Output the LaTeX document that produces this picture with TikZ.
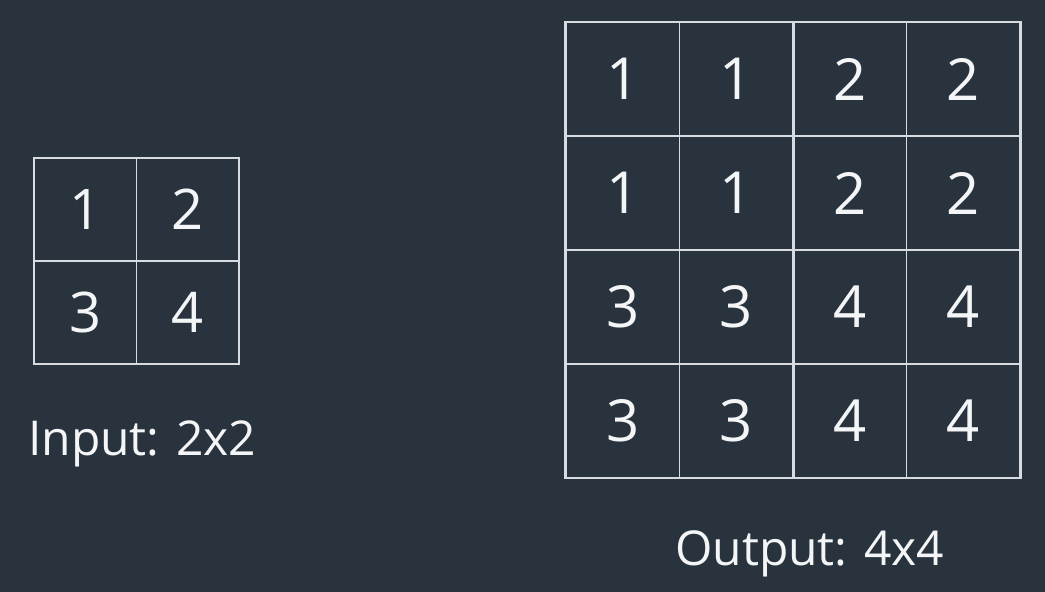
\documentclass[tikz,border=0pt]{standalone}
\usepackage{fontspec}
\setmainfont{Open Sans}
\definecolor{bg}{HTML}{29333E}
\definecolor{ln}{HTML}{D8DCE0}
\definecolor{txt}{HTML}{F4F5F6}
\begin{document}
\begin{tikzpicture}[x=1pt,y=-1pt,
  cellA/.style={draw=ln,line width=1.6pt,minimum size=102.5pt,inner sep=0pt,text=txt,font=\fontsize{56}{60}\selectfont},
  cellB/.style={draw=ln,line width=0.8pt,minimum size=113.5pt,inner sep=0pt,text=txt,font=\fontsize{58}{62}\selectfont},
  thick line/.style={draw=ln,line width=2.6pt},
  lbl/.style={text=txt,font=\fontsize{48}{52}\selectfont,inner sep=0pt}]
\fill[bg] (0,0) rectangle (1045,592);
\useasboundingbox (0,0) rectangle (1045,592);
% input grid
\foreach \r/\c/\v in {1/1/1,1/2/2,2/1/3,2/2/4}{
  \node[cellA] (a\r\c) at ({34+102.5*(\c-0.5)},{158+103*(\r-0.5)}) {\v};
}
\node[lbl,anchor=base west] (inlbl) at (28,455) {Input: 2x2};
% output grid
\foreach \r/\c/\v in {1/1/1,1/2/1,1/3/2,1/4/2,2/1/1,2/2/1,2/3/2,2/4/2,3/1/3,3/2/3,3/3/4,3/4/4,4/1/3,4/2/3,4/3/4,4/4/4}{
  \node[cellB] (b\r\c) at ({566+113.5*(\c-0.5)},{22+114*(\r-0.5)}) {\v};
}
\draw[thick line] (b11.north west) rectangle (b44.south east);
\draw[thick line] (b12.north east) -- (b42.south east);
\draw[thick line] (b21.south west) -- (b24.south east);
\node[lbl,anchor=base west] (outlbl) at (675,565) {Output: 4x4};
\end{tikzpicture}
\end{document}
